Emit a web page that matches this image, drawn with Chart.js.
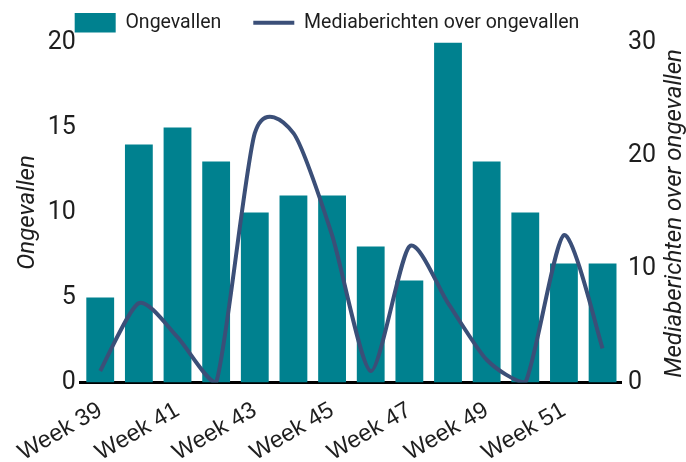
<!DOCTYPE html>
<html>
<head>
<meta charset="utf-8">
<script src="https://cdn.jsdelivr.net/npm/chart.js@4/dist/chart.umd.min.js"></script>
<style>
  html, body { margin: 0; padding: 0; background: #ffffff; }
  #wrap { width: 686px; height: 462px; }
</style>
</head>
<body>
<div id="wrap"><canvas id="c" width="686" height="462"></canvas></div>
<script>
const weeks = ['Week 39','Week 40','Week 41','Week 42','Week 43','Week 44','Week 45',
               'Week 46','Week 47','Week 48','Week 49','Week 50','Week 51','Week 52'];
const ongevallen = [5, 14, 15, 13, 10, 11, 11, 8, 6, 20, 13, 10, 7, 7];
const mediaberichten = [1, 7, 4, 0, 22, 22, 13, 1, 12, 7, 2, 0, 13, 3];
const leftTicks = [0, 5, 10, 15, 20];
const rightTicks = [0, 10, 20, 30];

const barColor = '#00818f';
const lineColor = '#3b4f78';
const textColor = '#1e1e1e';
const rightTitle = 'Mediaberichten over ongevallen';

// Right axis title reads bottom-to-top in the reference
const rightTitlePlugin = {
  id: 'rightTitle',
  afterLayout(chart) {
    chart.legend.left -= 4;
    chart.legend.right -= 4;
  },
  afterDraw(chart) {
    const ctx = chart.ctx;
    const area = chart.chartArea;
    ctx.save();
    ctx.font = 'italic 24px Roboto';
    ctx.fillStyle = textColor;
    ctx.textAlign = 'center';
    ctx.textBaseline = 'middle';
    ctx.translate(675, (area.top + area.bottom) / 2 + 1);
    ctx.rotate(-Math.PI / 2);
    ctx.fillText(rightTitle, 0, 0);
    ctx.restore();
  }
};

// Uniform cardinal-spline control points, capped to the chart area
const splinePlugin = {
  id: 'cardinalSpline',
  beforeDatasetDraw(chart, args) {
    const meta = args.meta;
    if (meta.type !== 'line') return;
    const line = meta.dataset;
    if (line.updateControlPoints) line.updateControlPoints(chart.chartArea, meta.indexAxis);
    const pts = line.points || meta.data;
    const n = pts.length;
    const k = 0.12;
    const a = chart.chartArea;
    const capY = v => Math.max(a.top, Math.min(a.bottom, v));
    for (let i = 0; i < n; i++) {
      const p0 = pts[Math.max(i - 1, 0)], p1 = pts[i], p2 = pts[Math.min(i + 1, n - 1)];
      p1.cp1x = p1.x - (p2.x - p0.x) * k;
      p1.cp1y = capY(p1.y - (p2.y - p0.y) * k);
      p1.cp2x = p1.x + (p2.x - p0.x) * k;
      p1.cp2y = capY(p1.y + (p2.y - p0.y) * k);
    }
    line._path = undefined;
  }
};

new Chart(document.getElementById('c'), {
  type: 'bar',
  data: {
    labels: weeks,
    datasets: [
      {
        type: 'bar',
        label: 'Ongevallen',
        data: ongevallen,
        backgroundColor: barColor,
        borderWidth: 0,
        yAxisID: 'y',
        order: 1
      },
      {
        type: 'line',
        label: 'Mediaberichten over ongevallen',
        data: mediaberichten,
        borderColor: lineColor,
        backgroundColor: lineColor,
        borderWidth: 4,
        pointRadius: 0,
        tension: 0.4,
        fill: false,
        yAxisID: 'y1',
        order: 0
      }
    ]
  },
  options: {
    responsive: false,
    animation: false,
    layout: { padding: { top: -19, left: 0, right: 24, bottom: -19 } },
    plugins: {
      tooltip: { enabled: false },
      legend: {
        position: 'top',
        labels: {
          color: textColor,
          font: { family: 'Roboto', size: 19.5 },
          usePointStyle: true,
          pointStyleWidth: 41,
          boxHeight: 20,
          padding: 32,
          sort: (a, b) => a.datasetIndex - b.datasetIndex,
          generateLabels(chart) {
            const items = Chart.defaults.plugins.legend.labels.generateLabels(chart);
            items.forEach(it => {
              if (it.datasetIndex === 0) {
                it.pointStyle = 'rect'; it.lineWidth = 0; it.fillStyle = barColor; it.strokeStyle = barColor;
              } else {
                it.pointStyle = 'line'; it.lineWidth = 4; it.strokeStyle = lineColor; it.fillStyle = lineColor;
              }
            });
            return items;
          }
        }
      }
    },
    scales: {
      x: {
        grid: { display: false, drawTicks: false },
        border: { display: true, color: '#000000', width: 3 },
        ticks: {
          autoSkip: false,
          minRotation: 30,
          maxRotation: 30,
          padding: 14,
          color: textColor,
          font: { family: 'Liberation Sans', size: 23.5 },
          callback(value, index) { return index % 2 === 0 ? weeks[index] : ''; }
        }
      },
      y: {
        position: 'left',
        min: 0, max: 20,
        afterBuildTicks(scale) { scale.ticks = leftTicks.map(v => ({ value: v })); },
        grid: { display: false, drawTicks: false },
        border: { display: false },
        ticks: { padding: 5, color: textColor, font: { family: 'Roboto', size: 25 } },
        title: {
          display: true,
          text: 'Ongevallen',
          color: textColor,
          font: { family: 'Roboto', size: 24, style: 'italic' },
          padding: { top: 14, bottom: 0 }
        }
      },
      y1: {
        position: 'right',
        min: 0, max: 30,
        afterBuildTicks(scale) { scale.ticks = rightTicks.map(v => ({ value: v })); },
        grid: { display: false, drawTicks: false },
        border: { display: false },
        ticks: { padding: 6, color: textColor, font: { family: 'Roboto', size: 25 } }
      }
    }
  },
  plugins: [rightTitlePlugin, splinePlugin]
});
</script>
</body>
</html>
